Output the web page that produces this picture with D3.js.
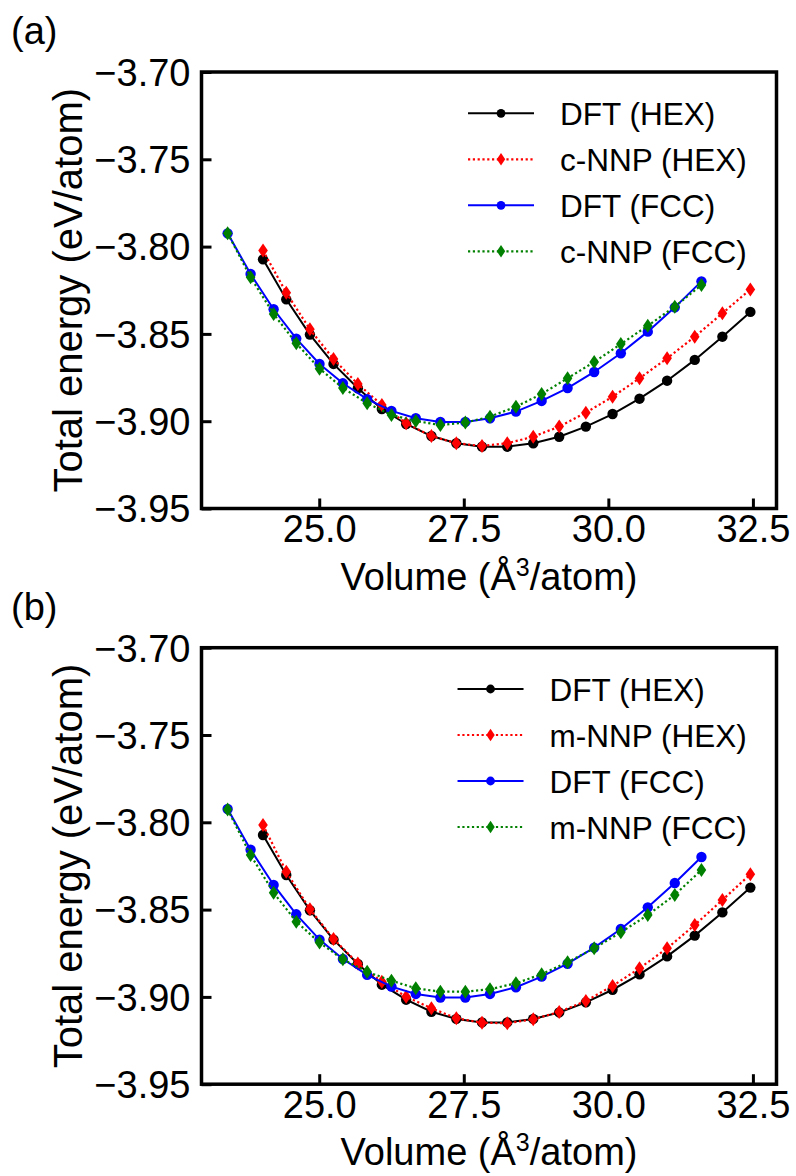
<!DOCTYPE html>
<html>
<head>
<meta charset="utf-8">
<script src="https://cdn.jsdelivr.net/npm/d3@7"></script>
<style>
  body { margin: 0; background: #fff; }
  text { font-family: "Liberation Sans", Arial, sans-serif; fill: #000; }
</style>
</head>
<body>
<svg id="chart" width="796" height="1176"></svg>
<script>
// volumes (A^3/atom) of the computed points
const volumeHEX = [24.028, 24.430, 24.839, 25.247, 25.668, 26.083, 26.503, 26.940, 27.371, 27.815,
                   28.252, 28.701, 29.150, 29.611, 30.073, 30.539, 31.016, 31.494, 31.972, 32.456];
const volumeFCC = [23.416, 23.813, 24.211, 24.603, 25.005, 25.409, 25.829, 26.249, 26.670, 27.095,
                   27.527, 27.953, 28.402, 28.846, 29.295, 29.755, 30.216, 30.682, 31.149, 31.610];

// energies (eV/atom)
const dftHEX  = [-3.8073, -3.8302, -3.8504, -3.8672, -3.8811, -3.8930, -3.9016, -3.9085, -3.9126, -3.9146,
                 -3.9146, -3.9126, -3.9089, -3.9031, -3.8959, -3.8871, -3.8768, -3.8649, -3.8516, -3.8374];
const dftFCC  = [-3.7924, -3.8157, -3.8359, -3.8527, -3.8672, -3.8783, -3.8874, -3.8941, -3.8983, -3.9004,
                 -3.9004, -3.8983, -3.8945, -3.8884, -3.8810, -3.8718, -3.8611, -3.8487, -3.8348, -3.8199];
const cnnpHEX = [-3.8023, -3.8264, -3.8474, -3.8644, -3.8787, -3.8907, -3.9012, -3.9085, -3.9126, -3.9142,
                 -3.9126, -3.9089, -3.9031, -3.8951, -3.8860, -3.8754, -3.8640, -3.8516, -3.8382, -3.8245];
const cnnpFCC = [-3.7924, -3.8176, -3.8386, -3.8554, -3.8699, -3.8810, -3.8897, -3.8964, -3.8999, -3.9022,
                 -3.9008, -3.8974, -3.8917, -3.8844, -3.8754, -3.8661, -3.8558, -3.8453, -3.8344, -3.8220];
const mnnpHEX = [-3.8015, -3.8283, -3.8498, -3.8668, -3.8808, -3.8913, -3.8999, -3.9065, -3.9122, -3.9148,
                 -3.9151, -3.9128, -3.9086, -3.9023, -3.8937, -3.8836, -3.8722, -3.8588, -3.8445, -3.8298];
const mnnpFCC = [-3.7926, -3.8187, -3.8403, -3.8569, -3.8689, -3.8785, -3.8856, -3.8907, -3.8951, -3.8970,
                 -3.8970, -3.8956, -3.8922, -3.8870, -3.8802, -3.8722, -3.8630, -3.8531, -3.8416, -3.8273];

const xTicks = [25.0, 27.5, 30.0, 32.5];
const yTicks = [-3.70, -3.75, -3.80, -3.85, -3.90, -3.95];
const xDomain = [22.964, 32.908];
const yDomain = [-3.95, -3.70];

const svg = d3.select('#chart');

function diamond(cx, cy, w, h) {
  return `M${cx},${cy - h}L${cx + w},${cy}L${cx},${cy + h}L${cx - w},${cy}Z`;
}

function drawPanel(top, tag, series) {
  const left = 201.5, right = 776.5, bottom = top + 436.5;
  const x = d3.scaleLinear().domain(xDomain).range([left, right]);
  const y = d3.scaleLinear().domain(yDomain).range([bottom, top]);
  const g = svg.append('g');

  // axes, ticks pointing inward
  const xAxis = g.append('g')
    .attr('transform', `translate(0,${bottom})`)
    .call(d3.axisBottom(x).tickValues(xTicks).tickSize(-10).tickPadding(7).tickFormat(d3.format('.1f')));
  const yAxis = g.append('g')
    .attr('transform', `translate(${left},0)`)
    .call(d3.axisLeft(y).tickValues(yTicks).tickSize(-10).tickPadding(11).tickFormat(d3.format('.2f')));
  [xAxis, yAxis].forEach(a => {
    a.select('.domain').remove();
    a.selectAll('line').attr('stroke', '#000').attr('stroke-width', 3);
    a.selectAll('text').style('font-size', '38px').attr('fill', '#000');
  });
  yAxis.selectAll('text').attr('dy', '0.35em');

  // series
  series.forEach(s => {
    const pts = s.xs.map((v, i) => [x(v), y(s.ys[i])]);
    g.append('path')
      .attr('d', d3.line()(pts))
      .attr('fill', 'none')
      .attr('stroke', s.color)
      .attr('stroke-width', s.dotted ? 2.2 : 2)
      .attr('stroke-dasharray', s.dotted ? '2.2,2.6' : null);
    if (s.marker === 'circle') {
      g.selectAll(null).data(pts).enter().append('circle')
        .attr('cx', d => d[0]).attr('cy', d => d[1]).attr('r', 5.2)
        .attr('fill', s.color);
    } else {
      g.selectAll(null).data(pts).enter().append('path')
        .attr('d', d => diamond(d[0], d[1], 4.8, 7))
        .attr('fill', s.color);
    }
  });

  // frame
  g.append('rect')
    .attr('x', left).attr('y', top)
    .attr('width', right - left).attr('height', bottom - top)
    .attr('fill', 'none').attr('stroke', '#000').attr('stroke-width', 3.5);

  // legend (right aligned like matplotlib upper right)
  const leg = g.append('g');
  const labels = series.map((s, i) => leg.append('text')
    .attr('y', top + 41.3 + i * 46 + 11.5)
    .style('font-size', '31.5px')
    .text(s.name));
  const maxLen = d3.max(labels, t => t.node().getComputedTextLength());
  const textX = 746.7 - maxLen;
  labels.forEach(t => t.attr('x', textX));
  series.forEach((s, i) => {
    const ly = top + 41.3 + i * 46;
    const x0 = textX - 92, x1 = textX - 26, xm = (x0 + x1) / 2;
    leg.append('line')
      .attr('x1', x0).attr('x2', x1).attr('y1', ly).attr('y2', ly)
      .attr('stroke', s.color)
      .attr('stroke-width', s.dotted ? 2.2 : 2)
      .attr('stroke-dasharray', s.dotted ? '2.2,2.6' : null);
    if (s.marker === 'circle') {
      leg.append('circle').attr('cx', xm).attr('cy', ly).attr('r', 4.4).attr('fill', s.color);
    } else {
      leg.append('path').attr('d', diamond(xm, ly, 4.2, 6.2)).attr('fill', s.color);
    }
  });

  // axis titles
  const xt = g.append('text')
    .attr('x', (left + right) / 2).attr('y', bottom + 81)
    .attr('text-anchor', 'middle')
    .style('font-size', '38px');
  xt.append('tspan').text('Volume (Å');
  xt.append('tspan').attr('dy', -14).style('font-size', '25px').text('3');
  xt.append('tspan').attr('dy', 14).text('/atom)');

  g.append('text')
    .attr('transform', `translate(82,${(top + bottom) / 2}) rotate(-90)`)
    .attr('text-anchor', 'middle')
    .style('font-size', '40px')
    .text('Total energy (eV/atom)');

  g.append('text')
    .attr('x', 11).attr('y', top - 28)
    .style('font-size', '38px')
    .text(tag);
}

drawPanel(72, '(a)', [
  { name: 'DFT (HEX)',   xs: volumeHEX, ys: dftHEX,  color: '#000000', marker: 'circle',  dotted: false },
  { name: 'c-NNP (HEX)', xs: volumeHEX, ys: cnnpHEX, color: '#ff0000', marker: 'diamond', dotted: true },
  { name: 'DFT (FCC)',   xs: volumeFCC, ys: dftFCC,  color: '#0000ff', marker: 'circle',  dotted: false },
  { name: 'c-NNP (FCC)', xs: volumeFCC, ys: cnnpFCC, color: '#008000', marker: 'diamond', dotted: true }
]);

drawPanel(647.7, '(b)', [
  { name: 'DFT (HEX)',   xs: volumeHEX, ys: dftHEX,  color: '#000000', marker: 'circle',  dotted: false },
  { name: 'm-NNP (HEX)', xs: volumeHEX, ys: mnnpHEX, color: '#ff0000', marker: 'diamond', dotted: true },
  { name: 'DFT (FCC)',   xs: volumeFCC, ys: dftFCC,  color: '#0000ff', marker: 'circle',  dotted: false },
  { name: 'm-NNP (FCC)', xs: volumeFCC, ys: mnnpFCC, color: '#008000', marker: 'diamond', dotted: true }
]);
</script>
</body>
</html>
